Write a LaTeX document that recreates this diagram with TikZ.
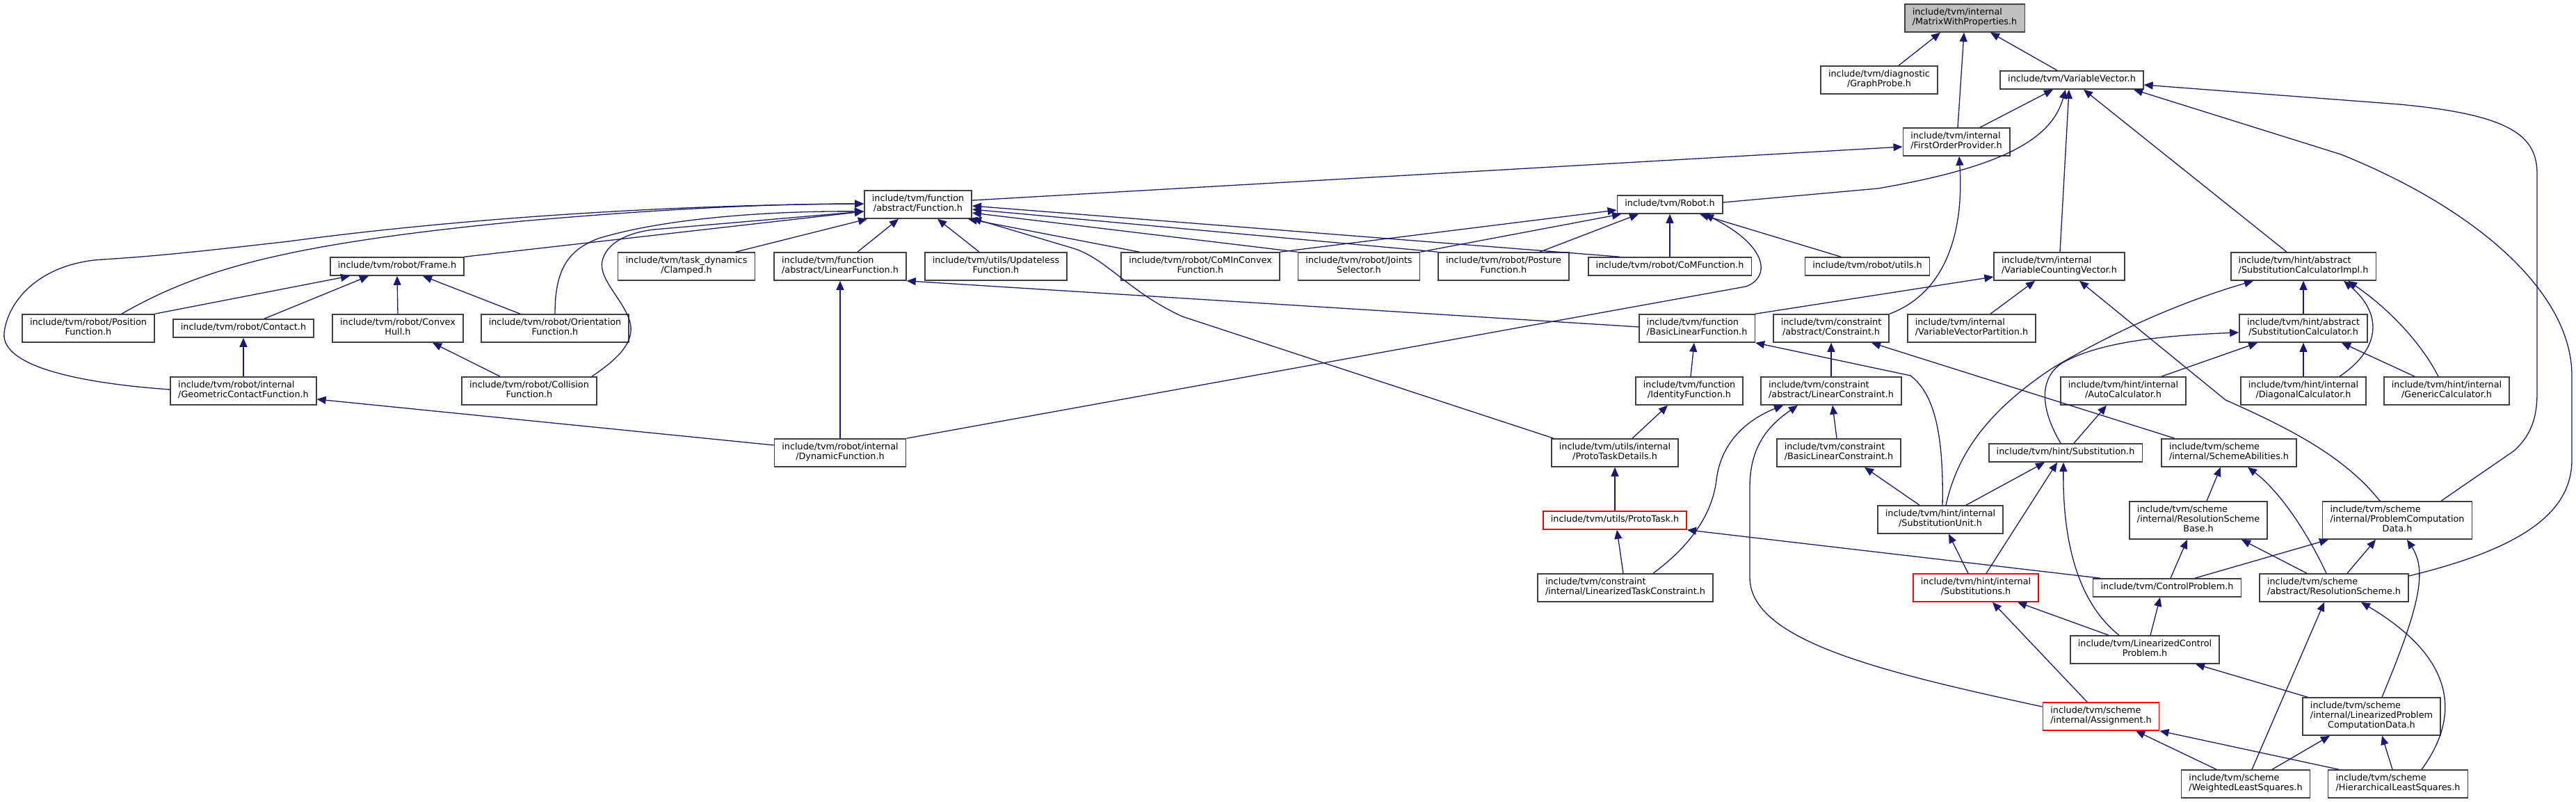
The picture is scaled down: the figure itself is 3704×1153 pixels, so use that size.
\documentclass[tikz,border=0pt]{standalone}
\usepackage{fontspec}
\setmainfont{DejaVu Sans}
\usetikzlibrary{arrows.meta}

\definecolor{edgeblue}{RGB}{25,25,112}
\definecolor{boxline}{RGB}{64,64,64}
\definecolor{curfill}{RGB}{191,191,191}

\newcommand{\hdrone}[1]{\begin{tabular}{@{}c@{}}#1\end{tabular}}
\newcommand{\hdrtwo}[2]{\begin{tabular}{@{}l@{}}#1\\\multicolumn{1}{@{}c@{}}{#2}\end{tabular}}
\newcommand{\hdrthree}[3]{\begin{tabular}{@{}l@{}}#1\\#2\\\multicolumn{1}{@{}c@{}}{#3}\end{tabular}}

\begin{document}
\begin{tikzpicture}[
  x=1pt, y=-1pt,
  hdr/.style = {
    rectangle, draw=boxline, fill=white, line width=1.6pt,
    inner xsep=11pt, inner ysep=6pt,
    font=\fontsize{12.8}{14}\selectfont
  },
  hdrred/.style = {hdr, draw=red},
  hdrcur/.style = {hdr, fill=curfill},
  incl/.style = {draw=edgeblue, line width=1.3pt, -{Triangle[length=13pt,width=11pt]}}
]
\fill[white] (0,0) rectangle (3704,1153);
\useasboundingbox (0,0) rectangle (3704,1153);
%--- ROW 0-1: MATRIX, VECTOR, PROVIDER ---
\node[hdrcur] (mwp)        at (2825,26)  {\hdrtwo{include/tvm/internal}{/MatrixWithProperties.h}};
\node[hdr]    (graphprobe) at (2702,115) {\hdrtwo{include/tvm/diagnostic}{/GraphProbe.h}};
\node[hdr]    (varvec)     at (2979,115) {\hdrone{include/tvm/VariableVector.h}};
\node[hdr]    (firstorder) at (2813,204) {\hdrtwo{include/tvm/internal}{/FirstOrderProvider.h}};
\node[hdr]    (function)   at (1320,294) {\hdrtwo{include/tvm/function}{/abstract/Function.h}};
\node[hdr]    (robot)      at (2401,294) {\hdrone{include/tvm/Robot.h}};
%--- ROW 2 ---
\node[hdr] (frame)       at (571,383)  {\hdrone{include/tvm/robot/Frame.h}};
\node[hdr] (clamped)     at (987,383)  {\hdrtwo{include/tvm/task\_dynamics}{/Clamped.h}};
\node[hdr] (linfunc)     at (1208,383) {\hdrtwo{include/tvm/function}{/abstract/LinearFunction.h}};
\node[hdr] (updateless)  at (1432,383) {\hdrtwo{include/tvm/utils/Updateless}{Function.h}};
\node[hdr] (cominconvex) at (1726,383) {\hdrtwo{include/tvm/robot/CoMInConvex}{Function.h}};
\node[hdr] (joints)      at (1954,383) {\hdrtwo{include/tvm/robot/Joints}{Selector.h}};
\node[hdr] (posture)     at (2162,383) {\hdrtwo{include/tvm/robot/Posture}{Function.h}};
\node[hdr] (comfunc)     at (2401,383) {\hdrone{include/tvm/robot/CoMFunction.h}};
\node[hdr] (robutils)    at (2685,383) {\hdrone{include/tvm/robot/utils.h}};
\node[hdr] (varcount)    at (2961,383) {\hdrtwo{include/tvm/internal}{/VariableCountingVector.h}};
\node[hdr] (subcalcimpl) at (3312,383) {\hdrtwo{include/tvm/hint/abstract}{/SubstitutionCalculatorImpl.h}};
%--- ROW 3 ---
\node[hdr] (position)     at (127,472)  {\hdrtwo{include/tvm/robot/Position}{Function.h}};
\node[hdr] (contact)      at (350,472)  {\hdrone{include/tvm/robot/Contact.h}};
\node[hdr] (convexhull)   at (572,472)  {\hdrtwo{include/tvm/robot/Convex}{Hull.h}};
\node[hdr] (orientation)  at (798,472)  {\hdrtwo{include/tvm/robot/Orientation}{Function.h}};
\node[hdr] (basiclinfunc) at (2440,472) {\hdrtwo{include/tvm/function}{/BasicLinearFunction.h}};
\node[hdr] (constraint)   at (2633,472) {\hdrtwo{include/tvm/constraint}{/abstract/Constraint.h}};
\node[hdr] (varvecpart)   at (2835,472) {\hdrtwo{include/tvm/internal}{/VariableVectorPartition.h}};
\node[hdr] (subcalc)      at (3312,472) {\hdrtwo{include/tvm/hint/abstract}{/SubstitutionCalculator.h}};
%--- ROW 4 ---
\node[hdr] (geomcontact) at (350,562)  {\hdrtwo{include/tvm/robot/internal}{/GeometricContactFunction.h}};
\node[hdr] (collision)   at (761,562)  {\hdrtwo{include/tvm/robot/Collision}{Function.h}};
\node[hdr] (identity)    at (2429,562) {\hdrtwo{include/tvm/function}{/IdentityFunction.h}};
\node[hdr] (linconstr)   at (2633,562) {\hdrtwo{include/tvm/constraint}{/abstract/LinearConstraint.h}};
\node[hdr] (autocalc)    at (3053,562) {\hdrtwo{include/tvm/hint/internal}{/AutoCalculator.h}};
\node[hdr] (diagcalc)    at (3312,562) {\hdrtwo{include/tvm/hint/internal}{/DiagonalCalculator.h}};
\node[hdr] (genericcalc) at (3518,562) {\hdrtwo{include/tvm/hint/internal}{/GenericCalculator.h}};
%--- ROW 5 ---
\node[hdr] (dynamic)        at (1208,651) {\hdrtwo{include/tvm/robot/internal}{/DynamicFunction.h}};
\node[hdr] (prototaskdet)   at (2322,651) {\hdrtwo{include/tvm/utils/internal}{/ProtoTaskDetails.h}};
\node[hdr] (basiclinconstr) at (2644,651) {\hdrtwo{include/tvm/constraint}{/BasicLinearConstraint.h}};
\node[hdr] (substitution)   at (2970,651) {\hdrone{include/tvm/hint/Substitution.h}};
\node[hdr] (schemeab)       at (3205,651) {\hdrtwo{include/tvm/scheme}{/internal/SchemeAbilities.h}};
%--- ROW 6 ---
\node[hdrred] (prototask)     at (2322,748) {\hdrone{include/tvm/utils/ProtoTask.h}};
\node[hdr]    (subunit)       at (2790,747) {\hdrtwo{include/tvm/hint/internal}{/SubstitutionUnit.h}};
\node[hdr]    (resschemebase) at (3161,748) {\hdrthree{include/tvm/scheme}{/internal/ResolutionScheme}{Base.h}};
\node[hdr]    (probcompdata)  at (3447,748) {\hdrthree{include/tvm/scheme}{/internal/ProblemComputation}{Data.h}};
%--- ROW 7 ---
\node[hdr]    (lintaskconstr) at (2337,845) {\hdrtwo{include/tvm/constraint}{/internal/LinearizedTaskConstraint.h}};
\node[hdrred] (substitutions) at (2841,845) {\hdrtwo{include/tvm/hint/internal}{/Substitutions.h}};
\node[hdr]    (controlprob)   at (3116,845) {\hdrone{include/tvm/ControlProblem.h}};
\node[hdr]    (resscheme)     at (3356,845) {\hdrtwo{include/tvm/scheme}{/abstract/ResolutionScheme.h}};
%--- ROW 8-10 ---
\node[hdr]    (linctrlprob) at (3084,934)  {\hdrtwo{include/tvm/LinearizedControl}{Problem.h}};
\node[hdrred] (assignment)  at (3021,1030) {\hdrtwo{include/tvm/scheme}{/internal/Assignment.h}};
\node[hdr]    (linprobcomp) at (3410,1030) {\hdrthree{include/tvm/scheme}{/internal/LinearizedProblem}{ComputationData.h}};
\node[hdr]    (wls)         at (3229,1127) {\hdrtwo{include/tvm/scheme}{/WeightedLeastSquares.h}};
\node[hdr]    (hls)         at (3448,1127) {\hdrtwo{include/tvm/scheme}{/HierarchicalLeastSquares.h}};
%--- EDGES: MATRIX / VECTOR / PROVIDER ---
\draw[incl] ([xshift=28pt]graphprobe.north) -- ([xshift=-35pt]mwp.south);
\draw[incl] ([xshift=2pt]firstorder.north) -- ([xshift=-1pt]mwp.south);
\draw[incl] ([xshift=-21pt]varvec.north) -- ([xshift=37pt]mwp.south);
\draw[incl] ([xshift=34pt]firstorder.north) -- ([xshift=-27pt]varvec.south);
\draw[incl] ([yshift=3pt]robot.east) -- (2700,271) .. controls (2880,240) and (2950,200) .. ([xshift=-9pt]varvec.south);
\draw[incl] ([xshift=1pt]varcount.north) -- ([xshift=-4pt]varvec.south);
\draw[incl] ([xshift=-24pt]subcalcimpl.north) -- ([xshift=17pt]varvec.south);
\draw[incl] ([xshift=63pt]probcompdata.north) -- (3615,648) .. controls (3640,625) and (3648,600) .. (3648,564)
  -- (3648,250) .. controls (3648,195) and (3610,165) .. (3450,150) -- ([yshift=-7pt]varvec.east);
\draw[incl] ([yshift=17pt]resscheme.east) .. controls (3620,790) and (3698,740) .. (3698,661)
  -- (3698,540) .. controls (3698,420) and (3560,300) .. (3366,222) -- ([xshift=89pt]varvec.south);
\draw[incl] ([yshift=6pt]function.east) -- ([yshift=-7pt]firstorder.west);
\draw[incl] (constraint.north east) .. controls (2800,420) and (2824,330) .. ([xshift=4pt]firstorder.south);
%--- EDGES: FUNCTION ---
\draw[incl] ([xshift=48pt]position.north) .. controls (290,385) and (420,350) .. (750,318)
  .. controls (1000,296) and (1150,293) .. ([yshift=1pt]function.west);
\draw[incl] ([yshift=2pt]geomcontact.west) .. controls (130,552) and (0,530) .. (6,478)
  .. controls (12,430) and (60,378) .. (148,373) .. controls (230,368) and (300,360) .. (415,347)
  .. controls (600,322) and (900,295) .. ([yshift=1pt]function.west);
\draw[incl] (frame.north east) -- ([yshift=-10pt]function.west);
\draw[incl] (orientation.north) .. controls (798,390) and (815,360) .. (860,343)
  .. controls (950,315) and (1100,303) .. ([yshift=-10pt]function.west);
\draw[incl] ([xshift=90pt]collision.north) .. controls (890,515) and (915,490) .. (905,460)
  .. controls (895,430) and (860,400) .. (866,375) .. controls (872,350) and (900,335) .. (940,330)
  -- ([yshift=-10pt]function.west);
\draw[incl] ([xshift=71pt]clamped.north) -- ([xshift=-73pt]function.south);
\draw[incl] ([xshift=25pt]linfunc.north) -- ([xshift=-28pt]function.south);
\draw[incl] ([xshift=-24pt]updateless.north) -- ([xshift=28pt]function.south);
\draw[incl] ([xshift=-88pt]cominconvex.north) -- ([xshift=-6pt]function.south east);
\draw[incl] (joints.north west) -- ([yshift=-12pt]function.east);
\draw[incl] (posture.north west) -- ([yshift=-7pt]function.east);
\draw[incl] ([xshift=-72pt]comfunc.north) -- ([yshift=-2pt]function.east);
\draw[incl] ([xshift=4pt]prototaskdet.north west) -- (1700,455) .. controls (1620,418) and (1590,370) .. (1540,356)
  -- ([yshift=1pt]function.south east);
%--- EDGES: ROBOT ---
\draw[incl] (cominconvex.north east) -- ([yshift=-8pt]robot.west);
\draw[incl] (joints.north east) -- ([xshift=-70pt]robot.south);
\draw[incl] ([xshift=52pt]posture.north) -- ([xshift=-45pt]robot.south);
\draw[incl] (comfunc.north) -- (robot.south);
\draw[incl] ([xshift=-38pt]robutils.north) -- ([xshift=43pt]robot.south);
\draw[incl] (dynamic.north east) -- (2510,412) .. controls (2545,400) and (2545,355) .. ([xshift=50pt]robot.south);
%--- EDGES: FRAME / LINEAR FUNCTION ---
\draw[incl] (dynamic.north) -- (linfunc.south);
\draw[incl] ([yshift=2pt]basiclinfunc.west) -- (linfunc.south east);
\draw[incl] (position.north east) -- ([xshift=-68pt]frame.south);
\draw[incl] ([xshift=30pt]contact.north) -- ([xshift=-41pt]frame.south);
\draw[incl] (convexhull.north) -- (frame.south);
\draw[incl] ([xshift=-50pt]orientation.north) -- ([xshift=37pt]frame.south);
\draw[incl] (geomcontact.north) -- (contact.south);
\draw[incl] ([xshift=-42pt]collision.north) -- ([xshift=50pt]convexhull.south);
\draw[incl] ([yshift=11pt]dynamic.west) -- ([yshift=-12pt]geomcontact.east);
%--- EDGES: BASIC FUNCTION / CONSTRAINT ---
\draw[incl] ([xshift=2pt]identity.north) -- ([xshift=-4pt]basiclinfunc.south);
\draw[incl] ([xshift=3pt]subunit.north) .. controls (2795,620) and (2780,565) .. (2747,540) -- (basiclinfunc.south east);
\draw[incl] (basiclinfunc.north east) -- ([yshift=-15pt]varcount.west);
\draw[incl] (linconstr.north) -- (constraint.south);
\draw[incl] ([xshift=-78pt]schemeab.north) -- ([xshift=58pt]constraint.south);
\draw[incl] ([xshift=27pt]varvecpart.north) -- ([xshift=-35pt]varcount.south);
\draw[incl] ([xshift=-25pt]probcompdata.north) .. controls (3370,655) and (3290,615) .. (3200,575) -- ([xshift=29pt]varcount.south);
%--- EDGES: HINT ---
\draw[incl] ([xshift=8pt]subunit.north) .. controls (2815,650) and (2860,590) .. (2950,530)
  .. controls (3050,470) and (3150,430) .. ([xshift=-72pt]subcalcimpl.south);
\draw[incl] (subcalc.north) -- (subcalcimpl.south);
\draw[incl] ([xshift=52pt]diagcalc.north) .. controls (3425,500) and (3425,450) .. ([xshift=58pt]subcalcimpl.south);
\draw[incl] ([xshift=-12pt]genericcalc.north) .. controls (3480,490) and (3430,440) .. ([xshift=64pt]subcalcimpl.south);
\draw[incl] ([xshift=55pt]autocalc.north) -- ([xshift=-66pt]subcalc.south);
\draw[incl] (diagcalc.north) -- (subcalc.south);
\draw[incl] ([xshift=-46pt]genericcalc.north) -- ([xshift=55pt]subcalc.south);
\draw[incl] ([xshift=-7pt]substitution.north) .. controls (2935,590) and (2930,545) .. (2965,522)
  .. controls (3020,490) and (3120,482) .. ([yshift=-6pt]subcalc.west);
\draw[incl] ([xshift=12pt]substitution.north) -- ([xshift=-24pt]autocalc.south);
\draw[incl] ([xshift=37pt]subunit.north) -- ([xshift=-30pt]substitution.south);
\draw[incl] ([xshift=15pt]substitutions.north) -- ([xshift=-12pt]substitution.south);
\draw[incl] ([xshift=-37pt]linctrlprob.north) .. controls (2980,860) and (2966,760) .. ([xshift=-3pt]substitution.south);
\draw[incl] ([xshift=-11pt]substitutions.north) -- ([xshift=12pt]subunit.south);
\draw[incl] ([xshift=-30pt]subunit.north) -- ([xshift=37pt]basiclinconstr.south);
\draw[incl] ([xshift=-20pt]assignment.north) -- ([xshift=24pt]substitutions.south);
\draw[incl] ([xshift=-52pt]linctrlprob.north) -- ([xshift=60pt]substitutions.south);
%--- EDGES: SCHEME ---
\draw[incl] ([xshift=12pt]resschemebase.north) -- ([xshift=-12pt]schemeab.south);
\draw[incl] ([xshift=-11pt]resscheme.north) .. controls (3310,750) and (3270,700) .. ([xshift=27pt]schemeab.south);
\draw[incl] ([xshift=5pt]controlprob.north) -- ([xshift=-16pt]resschemebase.south);
\draw[incl] ([xshift=-39pt]resscheme.north) -- ([xshift=62pt]resschemebase.south);
\draw[incl] ([xshift=40pt]controlprob.north) -- ([xshift=-99pt]probcompdata.south);
\draw[incl] ([xshift=19pt]resscheme.north) -- ([xshift=-31pt]probcompdata.south);
\draw[incl] ([xshift=15pt]linprobcomp.north) .. controls (3480,870) and (3490,820) .. ([xshift=14pt]probcompdata.south);
\draw[incl] ([xshift=8pt]linctrlprob.north) -- ([xshift=-10pt]controlprob.south);
\draw[incl] ([xshift=9pt]wls.north) -- ([xshift=-14pt]resscheme.south);
\draw[incl] ([xshift=34pt]hls.north) .. controls (3545,1020) and (3520,940) .. ([xshift=39pt]resscheme.south);
\draw[incl] ([xshift=-92pt]linprobcomp.north) -- ([xshift=73pt]linctrlprob.south);
\draw[incl] ([xshift=-42pt]wls.north) -- ([xshift=50pt]assignment.south);
\draw[incl] ([xshift=-85pt]hls.north) -- (assignment.south east);
\draw[incl] ([xshift=38pt]wls.north) -- ([xshift=-60pt]linprobcomp.south);
\draw[incl] ([xshift=-8pt]hls.north) -- ([xshift=15pt]linprobcomp.south);
%--- EDGES: PROTO TASK / LINEAR CONSTRAINT ---
\draw[incl] ([xshift=-96pt]controlprob.north) -- (prototask.south east);
\draw[incl] (prototask.north) -- (prototaskdet.south);
\draw[incl] ([xshift=25pt]prototaskdet.north) -- ([xshift=-31pt]identity.south);
\draw[incl] ([xshift=-3pt]lintaskconstr.north) -- ([xshift=3pt]prototask.south);
\draw[incl] ([xshift=40pt]lintaskconstr.north) .. controls (2430,785) and (2462,740) .. (2468,690)
  .. controls (2475,630) and (2520,600) .. ([xshift=-69pt]linconstr.south);
\draw[incl] ([xshift=-3pt]basiclinconstr.north) -- ([xshift=2pt]linconstr.south);
\draw[incl] ([yshift=14pt]assignment.west) .. controls (2700,965) and (2516,920) .. (2516,830)
  -- (2516,700) .. controls (2516,640) and (2545,610) .. ([xshift=-48pt]linconstr.south);
\end{tikzpicture}
\end{document}
